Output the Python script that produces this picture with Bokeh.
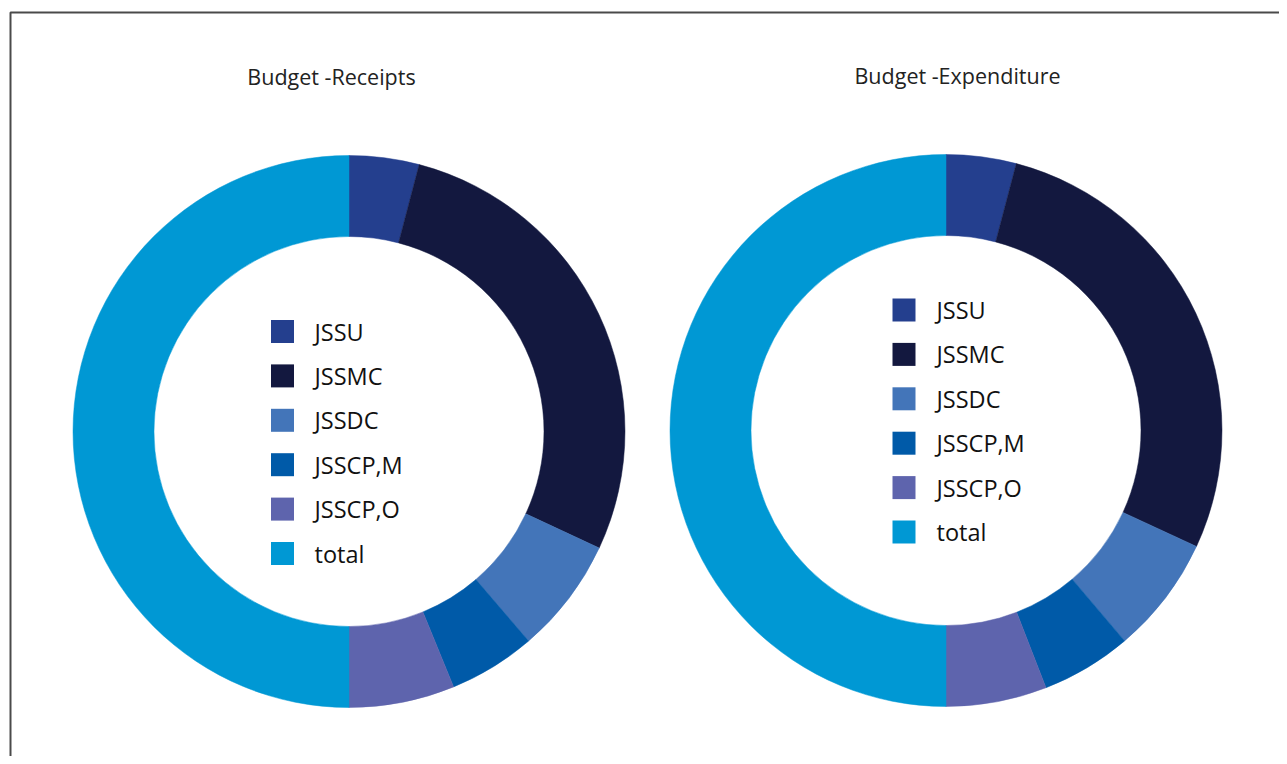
import numpy as np
from bokeh.plotting import figure
from bokeh.models import Range1d, ColumnDataSource
from bokeh.core.properties import value
from bokeh.embed import file_html
from bokeh.resources import INLINE

# ---- data ----
categories = ["JSSU", "JSSMC", "JSSDC", "JSSCP,M", "JSSCP,O", "total"]
receipts = [4.1, 27.9, 6.8, 5.1, 6.2, 50.1]
expenditure = [4.1, 27.8, 6.9, 5.3, 5.9, 50.0]
titles = ["Budget -Receipts", "Budget -Expenditure"]
colors = ["#243f8e", "#13183f", "#4375b9", "#005aa8", "#5e64ad", "#0098d4"]

# ---- layout (screen pixel coordinates; y negated so up is positive) ----
W, H = 1279, 756
p = figure(width=W, height=H, output_backend="svg", toolbar_location=None,
           x_range=Range1d(0, W), y_range=Range1d(-H, 0),
           min_border=0, min_border_left=0, min_border_right=0,
           min_border_top=0, min_border_bottom=0)
p.axis.visible = False
p.grid.visible = False
p.outline_line_color = None
p.background_fill_color = "white"
p.border_fill_color = "white"

# frame
p.quad(left=[10], right=[1400], top=[-12], bottom=[-900], fill_color=None,
       line_color="#4a4a4a", line_width=2)

charts = [
    dict(vals=receipts, cx=348.5, cy=431, title=titles[0], tx=331, ty=76,
         lx=282, ly0=331, textx=314),
    dict(vals=expenditure, cx=945.5, cy=430, title=titles[1], tx=957, ty=75,
         lx=903.5, ly0=309.5, textx=936),
]
R_OUT, R_IN = 276, 195
ROW = 44.4

for c in charts:
    v = np.array(c["vals"], dtype=float)
    frac = v / v.sum() * 2 * np.pi
    cum = np.cumsum(frac)
    start = np.pi / 2 - np.concatenate([[0], cum[:-1]])
    end = np.pi / 2 - cum
    src = ColumnDataSource(dict(start=start, end=end, color=colors, cat=categories))
    p.annular_wedge(x=c["cx"], y=-c["cy"], inner_radius=R_IN, outer_radius=R_OUT,
                    start_angle="start", end_angle="end", direction="clock",
                    fill_color="color", line_color="color", line_width=0.5,
                    source=src)
    # title
    p.text(x=[c["tx"]], y=[-c["ty"]], text=[c["title"]], text_align="center",
           text_baseline="middle", text_font=value("Open Sans"),
           text_font_size="21.5px", text_color="#222222")
    # legend
    ys = [-(c["ly0"] + i * ROW) for i in range(len(categories))]
    lsrc = ColumnDataSource(dict(x=[c["lx"]] * len(categories), y=ys,
                                 tx=[c["textx"]] * len(categories),
                                 color=colors, cat=categories))
    p.scatter(x="x", y="y", marker="square", size=23, fill_color="color",
              line_color=None, source=lsrc)
    p.text(x="tx", y="y", text="cat", text_align="left", text_baseline="middle",
           text_font=value("Open Sans"), text_font_size="23.5px",
           text_color="#111111", source=lsrc)

open("out.html", "w").write(file_html(p, INLINE))
